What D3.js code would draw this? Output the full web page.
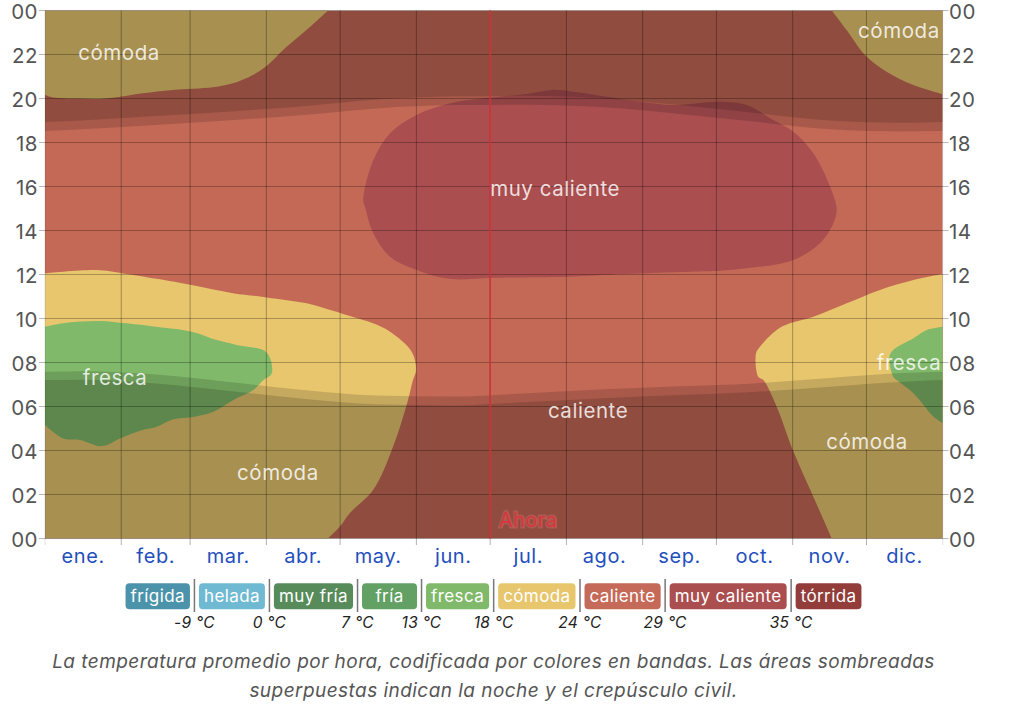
<!DOCTYPE html>
<html><head><meta charset="utf-8">
<script src="https://cdn.jsdelivr.net/npm/d3@7"></script>
<style>
body{margin:0;background:#fff;}
svg{display:block;font-family:Inter,"Liberation Sans",Arial,sans-serif;}
</style></head>
<body><svg id="c" width="1024" height="707"></svg>
<script>
// ---------- DATA ----------
const months = ["ene.","feb.","mar.","abr.","may.","jun.","jul.","ago.","sep.","oct.","nov.","dic."];
const monthStarts = [0,31,59,90,120,151,181,212,243,273,304,334,365];
const hourTicks = [0,2,4,6,8,10,12,14,16,18,20,22,24];
const nowDay = 181;

// band boundaries: [day of year, hour]
const comodaLeft = [[115.1,0],[119.9,0.54],[124.0,1.16],[133.4,2.2],[141.5,4.17],[147.6,6.3],[149.6,7.2],[150.9,7.66],[149.1,8.49],[140.3,9.4],[133.4,9.78],[124.0,10.11],[117.1,10.35],[106.4,10.69],[90.1,10.96],[76.4,11.15],[59.6,11.52],[46.8,11.78],[31.7,12.05],[21.0,12.2],[0,12.05]];
const comodaTopLeft = [[0,20.16],[3.3,20.05],[12.9,20.0],[22.4,19.98],[30.5,20.08],[39.8,20.24],[52.0,20.39],[68.3,20.51],[76.4,20.69],[84.5,21.07],[90.6,21.52],[96.8,22.2],[107.8,23.26],[115.1,24]];
const comodaTopRight = [[319.9,24],[326.0,23.1],[333.4,21.98],[342.2,21.22],[353.1,20.61],[365,20.19]];
const comodaRight = [[365,12.02],[353.1,11.75],[339.5,11.3],[326.0,10.69],[312.4,10.08],[302.9,9.78],[297.5,9.48],[290.7,8.72],[289.1,8.42],[290.0,7.35],[292.1,7.2],[297.5,5.99],[304.3,3.95],[312.4,1.9],[319.9,0]];
const frescaLeft = [[0,9.63],[8.8,9.81],[22.4,9.89],[33.2,9.78],[46.8,9.6],[59.6,9.4],[69.8,9.02],[77.9,8.8],[90.1,8.46],[92.2,7.51],[88.8,7.2],[84.7,6.75],[76.6,6.3],[68.4,5.76],[59.6,5.51],[52.2,5.42],[45.4,5.08],[38.6,4.9],[30.5,4.55],[23.1,4.2],[14.2,4.48],[7.4,4.55],[0,5.16]];
const frescaRight = [[365,9.63],[358.5,9.48],[353.1,9.1],[344.9,8.57],[343.3,8.26],[344.9,7.35],[346.3,7.2],[353.1,6.6],[361.2,5.54],[365,5.24]];
const muyCaliente = [[129.4,15.39],[133.5,17.2],[140.3,18.42],[151.1,19.25],[167.4,19.85],[182.3,20.05],[195.9,20.2],[206.0,20.39],[214.8,20.31],[228.4,20.08],[241.9,19.85],[255.5,19.7],[274.5,19.85],[285.3,19.7],[296.1,19.02],[304.3,18.49],[312.4,17.51],[319.2,15.99],[321.9,14.93],[319.9,14.17],[315.1,13.42],[304.3,12.66],[285.3,12.28],[274.5,12.17],[262.3,12.13],[235.2,12.02],[212.5,11.9],[181.9,11.85],[167.4,11.78],[160.6,11.87],[151.1,12.2],[140.3,12.81],[133.5,13.87],[130.1,15.08]];

// sun times (hours)
const sunDays = [0,15,45,74,105,135,166,196,227,258,288,319,349,365];
const sunrise = [7.58,7.6,7.45,7.12,6.75,6.5,6.45,6.6,6.78,6.92,7.05,7.3,7.52,7.58];
const dawn    = [7.2,7.22,7.05,6.72,6.35,6.1,6.05,6.2,6.38,6.52,6.66,6.9,7.13,7.2];
const sunset  = [18.52,18.6,18.8,19.0,19.25,19.55,19.7,19.72,19.6,19.3,18.95,18.6,18.5,18.52];
const dusk    = [18.93,19.0,19.2,19.4,19.65,19.95,20.1,20.12,20.0,19.7,19.35,19.0,18.9,18.93];

// band labels
const bandLabels = [
  {t:"cómoda",d:30.1,h:22.07},{t:"muy caliente",d:207.4,h:15.93},{t:"fresca",d:28.5,h:7.34},
  {t:"cómoda",d:94.7,h:2.98},{t:"caliente",d:220.8,h:5.84},{t:"cómoda",d:334.2,h:4.39},
  {t:"fresca",d:351.3,h:7.98},{t:"cómoda",d:347.2,h:23.11}
];

// legend
const legendNames = ["frígida","helada","muy fría","fría","fresca","cómoda","caliente","muy caliente","tórrida"];
const legendColors = ["#4b93aa","#6fbad2","#578b5a","#62a064","#80b96a","#e7c66e","#c56a58","#aa4e50","#923d3a"];
const legendThresholds = ["-9 °C","0 °C","7 °C","13 °C","18 °C","24 °C","29 °C","35 °C"];

// colors of bands drawn
const C = {comoda:"#e7c66e", caliente:"#c56957", fresca:"#80b96a", muyCaliente:"#aa4e50"};

// ---------- DRAW ----------
const svg = d3.select("#c");
const x = d3.scaleLinear().domain([0,365]).range([45,942.7]);
const y = d3.scaleLinear().domain([0,24]).range([538.5,10.5]);

svg.append("defs").append("clipPath").attr("id","plot")
  .append("rect").attr("x",x(0)).attr("y",y(24)).attr("width",x(365)-x(0)).attr("height",y(0)-y(24));

const g = svg.append("g").attr("clip-path","url(#plot)");

g.append("rect").attr("x",x(0)).attr("y",y(24)).attr("width",x(365)-x(0)).attr("height",y(0)-y(24)).attr("fill",C.caliente);

function regionPath(b, corners){
  const l = d3.line().x(d=>x(d[0])).y(d=>y(d[1])).curve(d3.curveCatmullRom.alpha(0.5));
  let p = l(b);
  (corners||[]).forEach(c=>{ p += "L"+x(c[0])+","+y(c[1]); });
  return p+"Z";
}
g.append("path").attr("d",regionPath(comodaLeft,[[0,0]])).attr("fill",C.comoda);
g.append("path").attr("d",regionPath(comodaTopLeft,[[0,24]])).attr("fill",C.comoda);
g.append("path").attr("d",regionPath(comodaTopRight,[[365,24]])).attr("fill",C.comoda);
g.append("path").attr("d",regionPath(comodaRight,[[365,0]])).attr("fill",C.comoda);
g.append("path").attr("d",regionPath(frescaLeft,[])).attr("fill",C.fresca);
g.append("path").attr("d",regionPath(frescaRight,[])).attr("fill",C.fresca);
g.append("path").attr("d",d3.line().x(d=>x(d[0])).y(d=>y(d[1])).curve(d3.curveCatmullRomClosed.alpha(0.5))(muyCaliente)).attr("fill",C.muyCaliente);

// night / twilight overlays
const sun = sunDays.map((d,i)=>({d, sr:sunrise[i], dw:dawn[i], ss:sunset[i], dk:dusk[i]}));
const shade = "rgba(0,0,0,0.146)";
function morning(key){ return d3.area().x(d=>x(d.d)).y0(y(0)).y1(d=>y(d[key])).curve(d3.curveMonotoneX)(sun); }
function evening(key){ return d3.area().x(d=>x(d.d)).y0(y(24)).y1(d=>y(d[key])).curve(d3.curveMonotoneX)(sun); }
["sr","dw"].forEach(k=>g.append("path").attr("d",morning(k)).attr("fill",shade));
["ss","dk"].forEach(k=>g.append("path").attr("d",evening(k)).attr("fill",shade));

// grid
const grid = svg.append("g");
hourTicks.forEach(h=>{
  grid.append("line").attr("x1",39).attr("x2",948.5).attr("y1",y(h)).attr("y2",y(h))
    .attr("stroke","rgba(0,0,0,0.28)").attr("stroke-width",1);
});
monthStarts.forEach((m,i)=>{
  grid.append("line").attr("x1",x(m)).attr("x2",x(m)).attr("y1",y(24)).attr("y2",545)
    .attr("stroke", (i==0||i==12)?"rgba(0,0,0,0.12)":"rgba(0,0,0,0.3)").attr("stroke-width",1);
});

// now line
svg.append("line").attr("x1",x(nowDay)).attr("x2",x(nowDay)).attr("y1",y(24)).attr("y2",y(0))
  .attr("stroke","#d2353a").attr("stroke-width",1.6);

// band labels
svg.append("g").selectAll("text").data(bandLabels).join("text")
  .attr("x",d=>x(d.d)).attr("y",d=>y(d.h)).attr("text-anchor","middle").attr("dominant-baseline","central")
  .attr("font-size",20.5).attr("letter-spacing",0.55).attr("fill","rgba(255,255,255,0.82)").text(d=>d.t);

svg.append("text").attr("x",x(nowDay)+38).attr("y",520).attr("text-anchor","middle").attr("dominant-baseline","central")
  .attr("font-size",20).attr("letter-spacing",0.4).attr("fill","#d8363c").attr("stroke","rgba(230,120,120,0.35)").attr("stroke-width",3)
  .attr("paint-order","stroke").text("Ahora");

// axes labels (baseline placed so digits are centred on grid line)
const fmt = h => String(h%24).padStart(2,"0");
svg.append("g").selectAll("text").data(hourTicks).join("text")
  .attr("x",38).attr("y",d=>y(d)+8.5).attr("text-anchor","end")
  .attr("font-size",20.5).attr("letter-spacing",0.5).attr("fill","#555").text(fmt);
svg.append("g").selectAll("text").data(hourTicks).join("text")
  .attr("x",949).attr("y",d=>y(d)+8.5).attr("text-anchor","start")
  .attr("font-size",20.5).attr("letter-spacing",0.5).attr("fill","#555").text(fmt);
svg.append("g").selectAll("text").data(months).join("text")
  .attr("x",(d,i)=>x((monthStarts[i]+monthStarts[i+1])/2)).attr("y",556)
  .attr("text-anchor","middle").attr("dominant-baseline","central")
  .attr("font-size",20).attr("letter-spacing",0.6).attr("fill","#1f4fbd").text(d=>d);

// legend
const lg = svg.append("g");
const items = legendNames.map((n,i)=>{
  const t = lg.append("text").attr("font-size",17).attr("letter-spacing",0.4).attr("fill","#fff").attr("text-anchor","middle")
    .attr("dominant-baseline","central").attr("y",596.3).text(n);
  return {t, w:Math.max(55, t.node().getComputedTextLength()+10), c:legendColors[i]};
});
const gap = 4.5;
const total = d3.sum(items,d=>d.w) + (items.length-1)*gap*2;
let cx = 493.5 - total/2;
const seps = [];
items.forEach((it,i)=>{
  lg.insert("rect","text").attr("x",cx).attr("y",583.3).attr("width",it.w).attr("height",26).attr("rx",4).attr("fill",it.c);
  it.t.attr("x",cx+it.w/2);
  cx += it.w;
  if(i<items.length-1){ seps.push(cx+gap); cx += gap*2; }
});
seps.forEach((s,i)=>{
  lg.append("line").attr("x1",s).attr("x2",s).attr("y1",579).attr("y2",612).attr("stroke","#777").attr("stroke-width",1.5);
  lg.append("text").attr("x",s).attr("y",622).attr("text-anchor","middle").attr("dominant-baseline","central")
    .attr("font-size",15.5).attr("font-style","italic").attr("letter-spacing",0.3).attr("fill","#222").text(legendThresholds[i]);
});

// caption
const cap = ["La temperatura promedio por hora, codificada por colores en bandas. Las áreas sombreadas",
             "superpuestas indican la noche y el crepúsculo civil."];
svg.append("g").selectAll("text").data(cap).join("text")
  .attr("x",493.5).attr("y",(d,i)=>661+i*29).attr("text-anchor","middle").attr("dominant-baseline","central")
  .attr("font-size",19).attr("letter-spacing",0.45).attr("font-style","italic").attr("fill","#555").text(d=>d);
</script></body></html>
